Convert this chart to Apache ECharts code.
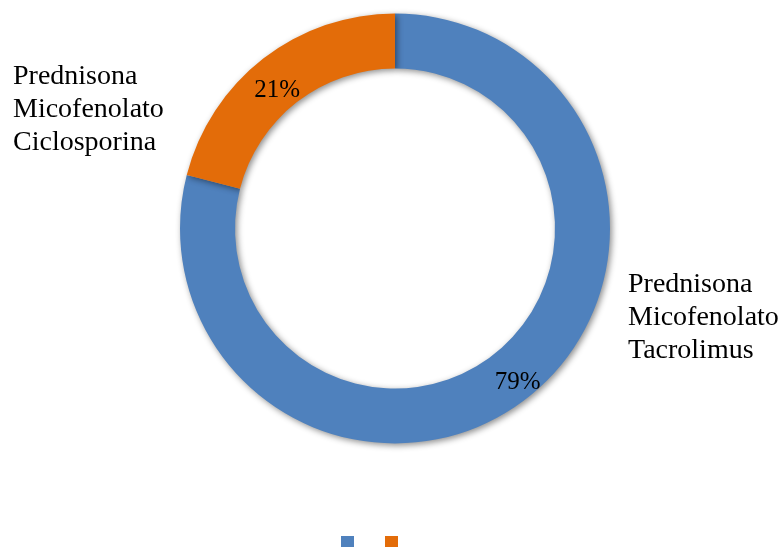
<!DOCTYPE html>
<html lang="es">
<head>
    <meta charset="utf-8">
    <title>Esquemas</title>
    <script src="https://cdn.jsdelivr.net/npm/echarts@6/dist/echarts.min.js"></script>
    <style>
        body { margin: 0; background: #fff; }
    </style>
</head>
<body>
<div id="main" style="width:784px;height:547px"></div>
<script type="text/javascript">
    // datos
    var categorias = ['Prednisona\nMicofenolato\nTacrolimus', 'Prednisona\nMicofenolato\nCiclosporina'];
    var valores = [79, 21];
    var colores = ['#4F81BD', '#E36C09'];

    // posicion de las etiquetas de nombre
    var posNombres = [
        { x: 628, y: 318 },
        { x: 13, y: 110 }
    ];

    var myChart = echarts.init(document.getElementById('main'));

    var datos = categorias.map(function (c, i) {
        return { name: c, value: valores[i] };
    });

    option = {
        animation: false,
        color: colores,
        legend: {
            top: 536,
            left: 341,
            padding: 0,
            itemWidth: 13,
            itemHeight: 12,
            itemGap: 31,
            icon: 'rect',
            formatter: function () { return ''; },
            data: categorias
        },
        series: [{
            type: 'pie',
            center: [395, 228.5],
            radius: [160, 215],
            startAngle: 90,
            clockwise: true,
            itemStyle: {
                shadowBlur: 6,
                shadowColor: 'rgba(0,0,0,0.45)',
                shadowOffsetX: 2,
                shadowOffsetY: 2
            },
            label: {
                show: true,
                position: 'inside',
                formatter: '{c}%',
                fontFamily: 'Liberation Serif',
                fontSize: 25,
                color: '#000'
            },
            labelLine: { show: false },
            labelLayout: function (p) {
                // un poco mas afuera en el anillo
                return p.dataIndex === 0 ? { dx: 6, dy: 3 } : { dx: -1, dy: 12 };
            },
            emphasis: { disabled: true },
            data: datos
        }, {
            // solo para los nombres
            type: 'pie',
            center: [395, 228.5],
            radius: [160, 215],
            startAngle: 90,
            silent: true,
            itemStyle: { color: 'transparent' },
            label: {
                show: true,
                position: 'outside',
                formatter: '{b}',
                fontFamily: 'Liberation Serif',
                fontSize: 28,
                lineHeight: 33,
                color: '#000',
                align: 'left'
            },
            labelLine: { show: false },
            labelLayout: function (p) {
                var pos = posNombres[p.dataIndex];
                return { x: pos.x, y: pos.y, align: 'left', verticalAlign: 'middle' };
            },
            data: datos
        }]
    };
    myChart.setOption(option);
</script>
</body>
</html>
